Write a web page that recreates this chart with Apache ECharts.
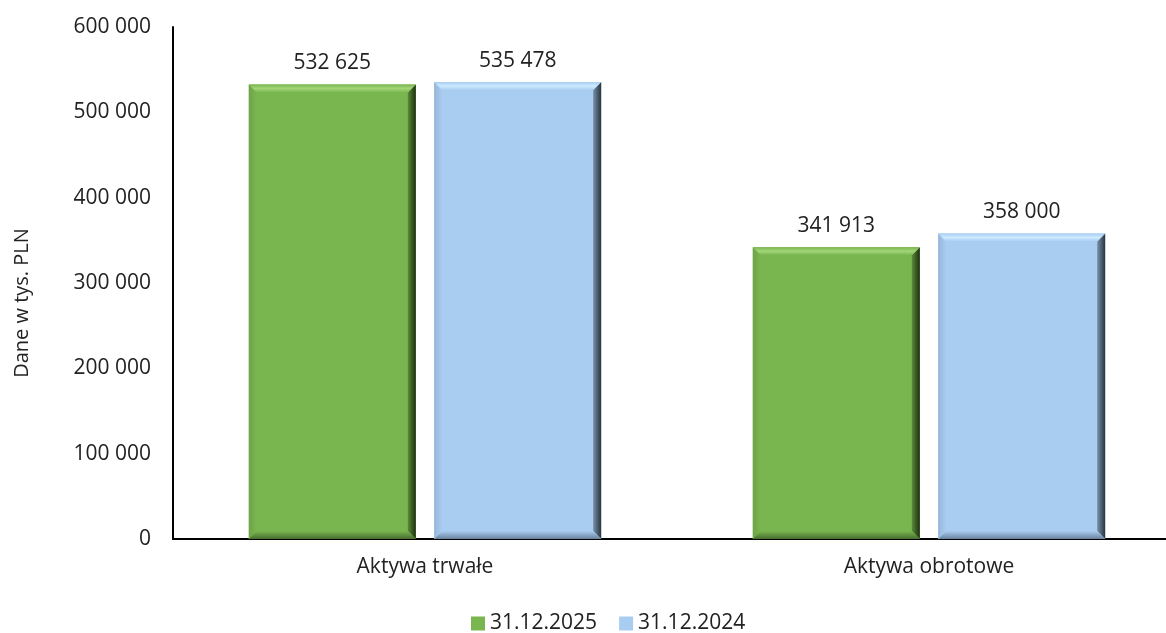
<!DOCTYPE html>
<html lang="pl">
<head>
    <meta charset="utf-8">
    <title>Aktywa</title>
    <script src="https://cdn.jsdelivr.net/npm/echarts@6/dist/echarts.min.js"></script>
    <style>
        html, body { margin: 0; padding: 0; background: #fff; overflow: hidden; }
        #main { width: 1181px; height: 633px; }
    </style>
</head>
<body>
    <div id="main"></div>
    <script>
        // dane z wykresu (tys. PLN)
        var categories = ['Aktywa trwałe', 'Aktywa obrotowe'];
        var seriesNames = ['31.12.2025', '31.12.2024'];
        var values2025 = [532625, 341913];
        var values2024 = [535478, 358000];
        var yTicks = [0, 100000, 200000, 300000, 400000, 500000, 600000];

        var BAR_W = 167;
        var GAP = 0.11;
        var BEV = 8;

        function fmt(v) {
            return String(v).replace(/\B(?=(\d{3})+(?!\d))/g, ' ');
        }

        function grad(horizontal, c0, c1) {
            return { type: 'linear', x: 0, y: 0, x2: horizontal ? 1 : 0, y2: horizontal ? 0 : 1,
                colorStops: [{ offset: 0, color: c0 }, { offset: 1, color: c1 }] };
        }

        var shades = [
            { base: '#7ab64f', top: '#a3d578', left: '#6ea347', right0: '#5a8a3a', right1: '#1d3010', bottom: '#466d30' },
            { base: '#a9cdf1', top: '#cdeaff', left: '#95b7d8', right0: '#7690aa', right1: '#28343f', bottom: '#6a829c' }
        ];

        // nakładka "fazy" na słupki
        function bevelSeries(idx, values) {
            var s = shades[idx];
            return {
                type: 'custom',
                silent: true,
                z: 3,
                data: values.map(function (v, i) { return [i, v]; }),
                encode: { x: 0, y: 1 },
                renderItem: function (params, api) {
                    var i = api.value(0);
                    var top = api.coord([i, api.value(1)]);
                    var bot = api.coord([i, 0]);
                    var off = (idx === 0 ? -1 : 1) * BAR_W * (1 + GAP) / 2;
                    var x0 = top[0] + off - BAR_W / 2, x1 = x0 + BAR_W;
                    var yt = top[1], yb = bot[1], b = BEV;
                    return {
                        type: 'group',
                        children: [{
                            type: 'polygon',
                            shape: { points: [[x0, yt], [x0 + b, yt + b], [x0 + b, yb - b], [x0, yb]] },
                            style: { fill: grad(true, s.left, s.base) }
                        }, {
                            type: 'polygon',
                            shape: { points: [[x1, yt], [x1 - b, yt + b], [x1 - b, yb - b], [x1, yb]] },
                            style: { fill: grad(true, s.right0, s.right1) }
                        }, {
                            type: 'polygon',
                            shape: { points: [[x0, yt], [x1, yt], [x1 - b, yt + b], [x0 + b, yt + b]] },
                            style: { fill: { type: 'linear', x: 0, y: 0, x2: 0, y2: 1, colorStops: [{ offset: 0, color: s.base }, { offset: 0.5, color: s.top }, { offset: 1, color: s.base }] } }
                        }, {
                            type: 'polygon',
                            shape: { points: [[x0, yb], [x1, yb], [x1 - b, yb - b], [x0 + b, yb - b]] },
                            style: { fill: grad(false, s.base, s.bottom) }
                        }]
                    };
                }
            };
        }

        var font = 'Open Sans';
        var labelOpt = { show: true, position: 'top', distance: 11, fontSize: 21, color: '#222', formatter: function (p) { return fmt(p.value); } };

        var chart = echarts.init(document.getElementById('main'));
        var option = {
            animation: false,
            textStyle: { fontFamily: font, color: '#222' },
            grid: { left: 173, top: 27, width: 1008, height: 512 },
            legend: {
                top: 608,
                left: 466,
                icon: 'rect',
                itemWidth: 14,
                itemHeight: 14,
                itemGap: 22,
                textStyle: { fontSize: 21, color: '#222' },
                data: seriesNames
            },
            graphic: [{
                type: 'text',
                x: 22,
                y: 303,
                rotation: Math.PI / 2,
                style: {
                    text: 'Dane w tys. PLN',
                    font: '20px "Open Sans"',
                    fill: '#222',
                    align: 'center',
                    verticalAlign: 'middle'
                }
            }],
            xAxis: {
                type: 'category',
                data: categories,
                axisLine: { lineStyle: { color: '#000', width: 2 } },
                axisTick: { show: false },
                axisLabel: { fontSize: 21, color: '#222', margin: 18 }
            },
            yAxis: {
                type: 'value',
                min: yTicks[0],
                max: yTicks[yTicks.length - 1],
                interval: 100000,
                axisLine: { show: true, lineStyle: { color: '#000', width: 2 } },
                axisTick: { show: false },
                splitLine: { show: false },
                axisLabel: { fontSize: 21, color: '#222', margin: 22, formatter: fmt }
            },
            series: [{
                name: seriesNames[0],
                type: 'bar',
                data: values2025,
                barWidth: BAR_W,
                barGap: (GAP * 100) + '%',
                itemStyle: { color: shades[0].base },
                label: labelOpt
            }, {
                name: seriesNames[1],
                type: 'bar',
                data: values2024,
                barWidth: BAR_W,
                itemStyle: { color: shades[1].base },
                label: labelOpt
            },
            bevelSeries(0, values2025),
            bevelSeries(1, values2024)]
        };
        chart.setOption(option);
    </script>
</body>
</html>
